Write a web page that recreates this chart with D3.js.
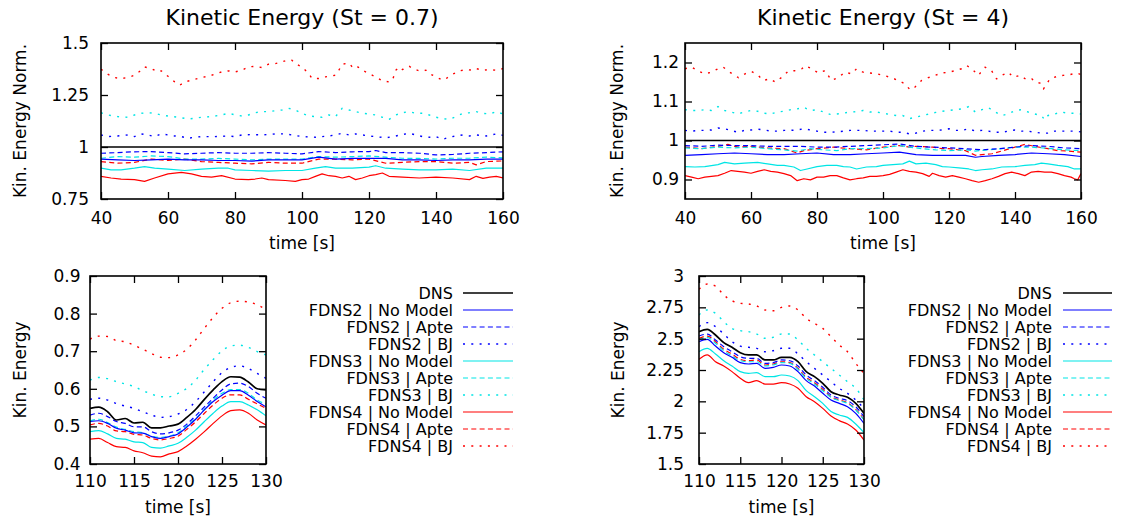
<!DOCTYPE html>
<html>
<head>
<meta charset="utf-8">
<script src="https://cdn.jsdelivr.net/npm/d3@7"></script>
<style>
  body { margin: 0; background: #fff; }
  svg { display: block; }
  text { font-family: "DejaVu Sans", Verdana, sans-serif; fill: #000; }
</style>
</head>
<body>
<svg id="chart" width="1125" height="523"></svg>
<script>
// ---------- series labels and styles ----------
const seriesNames = [
  "DNS",
  "FDNS2 | No Model", "FDNS2 | Apte", "FDNS2 | BJ",
  "FDNS3 | No Model", "FDNS3 | Apte", "FDNS3 | BJ",
  "FDNS4 | No Model", "FDNS4 | Apte", "FDNS4 | BJ"
];

// ---------- normalised kinetic energy, St = 0.7 ([time, value]) ----------
const n07_dns = [[40, 1], [160, 1]];
const n07_f2None = [[40,0.942],[45,0.938],[50,0.935],[55,0.938],[60,0.942],[65,0.938],[70,0.938],[75,0.935],[80,0.935],[85,0.932],[90,0.938],[95,0.938],[100,0.938],[105,0.951],[110,0.942],[115,0.945],[120,0.946],[125,0.945],[130,0.938],[135,0.938],[140,0.935],[145,0.938],[150,0.938],[155,0.942],[160,0.942]];
const n07_f2Apte = [[40,0.970],[45,0.973],[50,0.977],[55,0.978],[60,0.973],[65,0.967],[70,0.970],[75,0.973],[80,0.970],[85,0.970],[90,0.973],[95,0.970],[100,0.967],[105,0.978],[110,0.973],[115,0.977],[120,0.978],[122,0.983],[125,0.973],[130,0.973],[135,0.970],[140,0.962],[145,0.964],[150,0.970],[155,0.973],[160,0.977]];
const n07_f2BJ = [[40,1.058],[42,1.050],[45,1.053],[48,1.058],[50,1.050],[52,1.063],[54,1.058],[56,1.050],[58,1.063],[60,1.058],[62,1.053],[64,1.050],[66,1.042],[68,1.047],[70,1.050],[74,1.050],[78,1.053],[80,1.050],[82,1.058],[85,1.060],[88,1.058],[92,1.063],[95,1.063],[97,1.058],[100,1.050],[104,1.047],[106,1.050],[108,1.053],[110,1.058],[112,1.066],[114,1.058],[116,1.063],[118,1.058],[120,1.053],[122,1.050],[125,1.044],[128,1.053],[130,1.060],[132,1.066],[134,1.058],[136,1.050],[138,1.047],[140,1.050],[142,1.037],[144,1.047],[146,1.053],[148,1.058],[150,1.053],[152,1.058],[155,1.053],[158,1.063],[160,1.056]];
const n07_f3None = [[40,0.898],[43,0.890],[46,0.890],[50,0.898],[53,0.906],[56,0.898],[60,0.894],[65,0.887],[70,0.894],[75,0.898],[78,0.898],[80,0.890],[85,0.887],[90,0.884],[95,0.887],[100,0.887],[104,0.898],[107,0.906],[110,0.898],[115,0.898],[120,0.903],[122,0.910],[125,0.898],[130,0.894],[135,0.890],[140,0.890],[145,0.894],[150,0.887],[155,0.898],[160,0.898]];
const n07_f3Apte = [[40,0.946],[45,0.954],[50,0.951],[55,0.957],[60,0.954],[65,0.942],[70,0.942],[75,0.945],[80,0.942],[85,0.938],[90,0.942],[95,0.942],[100,0.942],[105,0.954],[110,0.951],[115,0.954],[120,0.957],[125,0.951],[130,0.946],[135,0.945],[140,0.942],[145,0.946],[150,0.946],[155,0.951],[160,0.948]];
const n07_f3BJ = [[40,1.165],[42,1.154],[45,1.146],[48,1.143],[50,1.154],[52,1.162],[54,1.165],[56,1.162],[58,1.154],[60,1.149],[63,1.143],[66,1.135],[68,1.138],[70,1.143],[73,1.146],[76,1.154],[78,1.162],[80,1.155],[82,1.149],[84,1.154],[86,1.165],[88,1.170],[90,1.170],[92,1.174],[94,1.178],[96,1.186],[98,1.178],[100,1.162],[102,1.149],[104,1.146],[106,1.143],[108,1.154],[110,1.146],[112,1.186],[114,1.178],[116,1.170],[118,1.162],[120,1.159],[122,1.154],[124,1.143],[126,1.133],[128,1.154],[130,1.165],[132,1.170],[134,1.162],[136,1.162],[138,1.154],[140,1.143],[142,1.136],[144,1.133],[146,1.146],[148,1.162],[150,1.165],[152,1.170],[154,1.162],[156,1.159],[158,1.170],[160,1.159]];
const n07_f4None = [[40,0.859],[43,0.851],[46,0.846],[50,0.843],[53,0.835],[56,0.851],[60,0.871],[64,0.878],[67,0.871],[70,0.859],[73,0.855],[76,0.862],[80,0.846],[84,0.843],[86,0.846],[88,0.851],[90,0.843],[95,0.839],[98,0.835],[100,0.843],[102,0.846],[104,0.859],[106,0.871],[108,0.862],[110,0.859],[112,0.851],[114,0.859],[116,0.843],[118,0.851],[120,0.862],[122,0.867],[124,0.875],[126,0.859],[130,0.855],[135,0.851],[140,0.855],[145,0.851],[150,0.843],[152,0.859],[154,0.849],[156,0.855],[158,0.859],[160,0.851]];
const n07_f4Apte = [[40,0.930],[45,0.922],[50,0.926],[55,0.942],[60,0.935],[65,0.942],[70,0.930],[75,0.926],[80,0.922],[85,0.919],[90,0.926],[95,0.922],[100,0.922],[105,0.942],[110,0.942],[115,0.938],[120,0.942],[125,0.922],[130,0.926],[135,0.930],[140,0.930],[145,0.922],[150,0.926],[152,0.914],[155,0.930],[160,0.933]];
const n07_f4BJ = [[40,1.374],[42,1.350],[44,1.334],[46,1.329],[48,1.334],[50,1.345],[52,1.369],[53,1.385],[55,1.377],[57,1.361],[58,1.366],[60,1.340],[62,1.313],[63.5,1.297],[65,1.313],[67,1.321],[70,1.334],[72,1.340],[74,1.350],[76,1.361],[78,1.366],[80,1.361],[82,1.369],[84,1.385],[86,1.388],[88,1.382],[90,1.398],[92,1.401],[94,1.409],[96,1.420],[97,1.417],[98,1.401],[100,1.385],[102,1.353],[103,1.329],[105,1.329],[107,1.337],[110,1.345],[111,1.369],[112,1.398],[114,1.404],[115,1.385],[116,1.393],[118,1.369],[120,1.353],[122,1.337],[124,1.318],[126,1.313],[127,1.321],[128,1.369],[129,1.385],[130,1.372],[132,1.388],[133,1.377],[135,1.366],[137,1.369],[138,1.353],[140,1.337],[142,1.321],[143,1.329],[145,1.350],[147,1.366],[149,1.372],[151,1.369],[152,1.377],[154,1.369],[156,1.372],[158,1.369],[160,1.377]];

// ---------- normalised kinetic energy, St = 4 ([time, value]) ----------
const n4_dns = [[40, 1], [160, 1]];
const n4_f2None = [[40,0.962],[45,0.964],[50,0.966],[55,0.968],[60,0.966],[65,0.964],[70,0.964],[75,0.966],[80,0.968],[85,0.964],[90,0.964],[95,0.966],[100,0.968],[105,0.970],[110,0.964],[115,0.962],[120,0.962],[125,0.962],[128,0.957],[130,0.959],[135,0.962],[140,0.964],[145,0.968],[150,0.966],[155,0.964],[160,0.959]];
const n4_f2Apte = [[40,0.987],[45,0.985],[50,0.988],[55,0.987],[60,0.987],[65,0.985],[70,0.985],[75,0.985],[80,0.983],[85,0.983],[90,0.985],[95,0.987],[100,0.989],[105,0.991],[110,0.985],[115,0.983],[120,0.981],[125,0.979],[130,0.976],[135,0.979],[140,0.983],[145,0.987],[150,0.985],[155,0.981],[160,0.979]];
const n4_f2BJ = [[40,1.026],[42,1.024],[44,1.026],[46,1.026],[48,1.027],[50,1.032],[52,1.030],[54,1.026],[56,1.021],[58,1.026],[60,1.027],[62,1.029],[64,1.027],[66,1.024],[68,1.024],[70,1.026],[72,1.026],[74,1.027],[76,1.030],[78,1.027],[80,1.024],[82,1.021],[84,1.021],[86,1.022],[88,1.024],[90,1.026],[92,1.026],[94,1.026],[96,1.024],[98,1.024],[100,1.024],[102,1.024],[104,1.021],[106,1.021],[108,1.017],[110,1.019],[112,1.024],[114,1.026],[116,1.026],[118,1.027],[120,1.030],[122,1.026],[124,1.026],[126,1.030],[128,1.024],[130,1.026],[132,1.024],[134,1.021],[136,1.021],[138,1.024],[140,1.027],[142,1.024],[144,1.024],[146,1.021],[148,1.019],[150,1.019],[152,1.024],[154,1.024],[156,1.024],[158,1.024],[160,1.022]];
const n4_f3None = [[40,0.933],[43,0.932],[46,0.933],[50,0.938],[52,0.944],[55,0.940],[58,0.942],[62,0.944],[65,0.940],[68,0.936],[70,0.936],[73,0.932],[75,0.923],[77,0.927],[80,0.933],[83,0.936],[86,0.936],[88,0.933],[90,0.932],[92,0.927],[95,0.932],[98,0.933],[100,0.936],[103,0.938],[106,0.940],[108,0.947],[110,0.940],[113,0.942],[116,0.938],[118,0.933],[120,0.932],[123,0.930],[126,0.927],[128,0.923],[130,0.925],[133,0.927],[136,0.932],[140,0.933],[143,0.936],[146,0.938],[148,0.942],[150,0.940],[153,0.936],[156,0.933],[158,0.927],[160,0.927]];
const n4_f3Apte = [[40,0.981],[45,0.979],[50,0.983],[55,0.981],[60,0.983],[65,0.979],[70,0.976],[74,0.973],[78,0.979],[82,0.976],[86,0.974],[90,0.979],[95,0.979],[100,0.981],[105,0.987],[108,0.983],[112,0.979],[116,0.976],[120,0.974],[125,0.976],[128,0.973],[132,0.976],[136,0.979],[140,0.983],[145,0.983],[150,0.980],[155,0.976],[160,0.974]];
const n4_f3BJ = [[40,1.079],[42,1.077],[44,1.077],[46,1.079],[48,1.077],[50,1.087],[52,1.077],[54,1.073],[56,1.068],[58,1.073],[60,1.077],[62,1.075],[64,1.070],[66,1.068],[68,1.073],[70,1.075],[72,1.079],[74,1.081],[76,1.085],[78,1.077],[80,1.079],[82,1.073],[84,1.067],[86,1.068],[88,1.070],[90,1.073],[92,1.074],[94,1.077],[96,1.073],[98,1.073],[100,1.070],[102,1.067],[104,1.064],[106,1.064],[108,1.056],[110,1.060],[112,1.064],[114,1.068],[116,1.072],[118,1.075],[120,1.077],[122,1.079],[124,1.081],[126,1.087],[128,1.073],[130,1.079],[132,1.084],[134,1.073],[136,1.064],[138,1.068],[140,1.077],[142,1.079],[144,1.073],[146,1.068],[148,1.064],[149,1.053],[150,1.064],[152,1.068],[154,1.073],[156,1.070],[158,1.070],[160,1.068]];
const n4_f4None = [[40,0.910],[42,0.906],[44,0.902],[46,0.906],[48,0.908],[50,0.910],[52,0.916],[54,0.923],[56,0.921],[58,0.919],[60,0.916],[62,0.921],[64,0.925],[66,0.921],[68,0.919],[70,0.915],[72,0.910],[74,0.897],[76,0.902],[78,0.899],[80,0.906],[82,0.906],[84,0.910],[86,0.910],[88,0.904],[90,0.899],[92,0.902],[94,0.904],[96,0.908],[98,0.908],[100,0.910],[102,0.913],[104,0.919],[106,0.925],[108,0.921],[110,0.919],[112,0.915],[114,0.908],[115,0.916],[117,0.910],[119,0.906],[121,0.910],[123,0.906],[125,0.902],[127,0.897],[129,0.893],[131,0.897],[133,0.902],[135,0.908],[137,0.915],[139,0.919],[141,0.915],[143,0.910],[145,0.919],[147,0.921],[149,0.919],[151,0.919],[153,0.915],[155,0.910],[157,0.906],[158,0.902],[159,0.899],[160,0.915]];
const n4_f4Apte = [[40,0.983],[45,0.979],[50,0.985],[53,0.990],[56,0.983],[60,0.985],[65,0.981],[70,0.979],[74,0.968],[76,0.974],[80,0.979],[85,0.983],[90,0.979],[95,0.976],[100,0.983],[105,0.987],[108,0.983],[110,0.985],[115,0.983],[118,0.979],[120,0.979],[125,0.974],[128,0.962],[130,0.964],[133,0.966],[136,0.973],[140,0.983],[143,0.990],[146,0.985],[150,0.979],[153,0.974],[156,0.973],[160,0.970]];
const n4_f4BJ = [[40,1.184],[42,1.188],[44,1.178],[46,1.171],[48,1.175],[50,1.184],[51.6,1.188],[53.6,1.175],[56.2,1.161],[58.2,1.171],[60.2,1.177],[62.2,1.167],[63.7,1.154],[65.8,1.158],[67.3,1.150],[69.3,1.162],[71.3,1.178],[73.3,1.179],[75.4,1.184],[76.4,1.192],[78.4,1.184],[80.4,1.173],[82.4,1.179],[84.4,1.154],[86.5,1.162],[88.5,1.175],[90.5,1.171],[92,1.184],[94,1.175],[96,1.173],[98.1,1.171],[100.1,1.167],[102.6,1.161],[104.6,1.154],[106.7,1.145],[108.2,1.130],[109.7,1.137],[111.7,1.154],[113.7,1.161],[115.8,1.167],[117.8,1.173],[119.8,1.175],[121.8,1.179],[123.8,1.184],[125.4,1.192],[126.9,1.184],[128.9,1.167],[130.9,1.188],[132.9,1.179],[134.4,1.158],[136,1.167],[138,1.175],[139.5,1.162],[141.5,1.167],[143.5,1.156],[145.1,1.158],[146.1,1.150],[147.6,1.147],[148.6,1.132],[150.6,1.158],[152.6,1.164],[154.6,1.167],[156.7,1.169],[158.7,1.173],[160,1.169]];

// ---------- kinetic energy, 110 s to 130 s ----------
const zoomTime = [110,111,112,113,114,115,116,117,118,119,120,121,122,123,124,125,126,127,128,129,130];

const ke07_dns    = [0.548,0.551,0.539,0.517,0.521,0.509,0.511,0.496,0.496,0.501,0.506,0.524,0.545,0.572,0.597,0.619,0.632,0.631,0.618,0.600,0.597];
const ke07_f2None = [0.513,0.515,0.508,0.495,0.490,0.483,0.482,0.473,0.468,0.473,0.480,0.498,0.519,0.544,0.566,0.583,0.595,0.595,0.583,0.566,0.552];
const ke07_f2Apte = [0.530,0.535,0.526,0.513,0.508,0.499,0.499,0.486,0.480,0.483,0.490,0.506,0.528,0.552,0.575,0.597,0.613,0.615,0.606,0.588,0.575];
const ke07_f2BJ   = [0.572,0.575,0.570,0.561,0.554,0.548,0.539,0.530,0.524,0.526,0.533,0.545,0.566,0.592,0.619,0.643,0.657,0.661,0.654,0.641,0.628];
const ke07_f3None = [0.486,0.489,0.480,0.468,0.466,0.459,0.457,0.444,0.442,0.448,0.455,0.471,0.490,0.513,0.535,0.554,0.566,0.566,0.557,0.544,0.528];
const ke07_f3Apte = [0.515,0.519,0.510,0.498,0.492,0.486,0.483,0.474,0.471,0.474,0.483,0.501,0.521,0.545,0.570,0.588,0.598,0.598,0.588,0.570,0.559];
const ke07_f3BJ   = [0.623,0.630,0.627,0.619,0.613,0.606,0.595,0.586,0.579,0.579,0.588,0.601,0.623,0.652,0.678,0.701,0.714,0.716,0.710,0.699,0.690];
const ke07_f4None = [0.466,0.468,0.457,0.446,0.444,0.435,0.430,0.421,0.419,0.427,0.433,0.448,0.466,0.486,0.508,0.528,0.542,0.544,0.535,0.517,0.504];
const ke07_f4Apte = [0.504,0.508,0.501,0.488,0.486,0.479,0.477,0.468,0.464,0.468,0.474,0.492,0.512,0.535,0.557,0.575,0.584,0.584,0.572,0.560,0.548];
const ke07_f4BJ   = [0.732,0.740,0.739,0.728,0.725,0.716,0.705,0.694,0.684,0.683,0.690,0.705,0.730,0.761,0.790,0.814,0.829,0.833,0.831,0.823,0.811];

const ke4_dns    = [2.556,2.574,2.529,2.468,2.431,2.388,2.370,2.370,2.330,2.330,2.351,2.351,2.316,2.237,2.197,2.144,2.077,2.051,2.032,1.984,1.904];
const ke4_f2None = [2.476,2.495,2.441,2.388,2.351,2.309,2.298,2.303,2.263,2.271,2.290,2.282,2.237,2.165,2.122,2.064,2.011,1.984,1.957,1.904,1.824];
const ke4_f2Apte = [2.521,2.537,2.489,2.436,2.396,2.356,2.343,2.343,2.303,2.309,2.330,2.324,2.282,2.210,2.165,2.112,2.051,2.024,2.005,1.957,1.878];
const ke4_f2BJ   = [2.596,2.628,2.596,2.537,2.476,2.441,2.431,2.423,2.396,2.404,2.423,2.423,2.378,2.316,2.263,2.210,2.157,2.104,2.064,2.011,1.944];
const ke4_f3None = [2.396,2.423,2.378,2.324,2.282,2.237,2.223,2.229,2.197,2.197,2.210,2.202,2.165,2.085,2.037,1.984,1.918,1.891,1.872,1.819,1.750];
const ke4_f3Apte = [2.489,2.511,2.463,2.404,2.362,2.324,2.316,2.316,2.282,2.290,2.309,2.303,2.255,2.184,2.138,2.085,2.032,2.005,1.984,1.931,1.851];
const ke4_f3BJ   = [2.689,2.729,2.702,2.636,2.582,2.564,2.556,2.537,2.503,2.511,2.537,2.537,2.489,2.423,2.370,2.316,2.263,2.210,2.157,2.104,2.011];
const ke4_f4None = [2.335,2.370,2.316,2.282,2.237,2.184,2.149,2.165,2.138,2.138,2.149,2.138,2.104,2.037,1.997,1.944,1.883,1.846,1.819,1.771,1.691];
const ke4_f4Apte = [2.503,2.521,2.476,2.415,2.378,2.335,2.324,2.330,2.290,2.298,2.316,2.309,2.263,2.191,2.149,2.096,2.037,2.011,1.989,1.936,1.856];
const ke4_f4BJ   = [2.894,2.936,2.920,2.848,2.803,2.782,2.777,2.761,2.729,2.723,2.750,2.761,2.729,2.662,2.622,2.582,2.516,2.449,2.396,2.303,2.223];

// ---------- axis tick values ----------
const longTimeTicks = [40, 60, 80, 100, 120, 140, 160];
const shortTimeTicks = [110, 115, 120, 125, 130];
const n07Ticks = [0.75, 1, 1.25, 1.5];
const n4Ticks = [0.9, 1, 1.1, 1.2];
const ke07Ticks = [0.4, 0.5, 0.6, 0.7, 0.8, 0.9];
const ke4Ticks = [1.5, 1.75, 2, 2.25, 2.5, 2.75, 3];

// ---------- drawing ----------
const FONT = 17;
const BLUE = "#0000ff", CYAN = "#00e5e5", RED = "#ff0000";
const styles = [
  { color: "#000", dash: null, width: 1.7 },
  { color: BLUE, dash: null, width: 1.2 },
  { color: BLUE, dash: "5,3.3", width: 1.2 },
  { color: BLUE, dash: "2,6.3", width: 1.4 },
  { color: CYAN, dash: null, width: 1.2 },
  { color: CYAN, dash: "5,3.3", width: 1.2 },
  { color: CYAN, dash: "2,6.3", width: 1.4 },
  { color: RED, dash: null, width: 1.2 },
  { color: RED, dash: "5,3.3", width: 1.2 },
  { color: RED, dash: "2,6.3", width: 1.4 }
];

const pairs = ys => ys.map((v, i) => [zoomTime[i], v]);

const panels = [
  { id: "n07", left: 101, right: 503, top: 43, bottom: 199, xd: [40, 160], yd: [0.75, 1.5],
    xt: longTimeTicks, yt: n07Ticks, ypad: 12, xpad: 13, yLabelX: 20,
    title: "Kinetic Energy (St = 0.7)", ylabel: "Kin. Energy Norm.", smooth: false,
    data: [n07_dns, n07_f2None, n07_f2Apte, n07_f2BJ, n07_f3None, n07_f3Apte, n07_f3BJ, n07_f4None, n07_f4Apte, n07_f4BJ] },
  { id: "n4", left: 685, right: 1081, top: 43, bottom: 199, xd: [40, 160], yd: [0.85, 1.25],
    xt: longTimeTicks, yt: n4Ticks, ypad: 6, xpad: 13, yLabelX: 617,
    title: "Kinetic Energy (St = 4)", ylabel: "Kin. Energy Norm.", smooth: false,
    data: [n4_dns, n4_f2None, n4_f2Apte, n4_f2BJ, n4_f3None, n4_f3Apte, n4_f3BJ, n4_f4None, n4_f4Apte, n4_f4BJ] },
  { id: "ke07", left: 90, right: 266, top: 276, bottom: 464, xd: [110, 130], yd: [0.4, 0.9],
    xt: shortTimeTicks, yt: ke07Ticks, ypad: 9.5, xpad: 10.5, yLabelX: 20,
    title: null, ylabel: "Kin. Energy", smooth: true,
    data: [ke07_dns, ke07_f2None, ke07_f2Apte, ke07_f2BJ, ke07_f3None, ke07_f3Apte, ke07_f3BJ, ke07_f4None, ke07_f4Apte, ke07_f4BJ].map(pairs),
    legend: { textRight: 453, lineX0: 463, lineX1: 513, y0: 293, step: 17 } },
  { id: "ke4", left: 699, right: 864, top: 276, bottom: 464, xd: [110, 130], yd: [1.5, 3],
    xt: shortTimeTicks, yt: ke4Ticks, ypad: 15, xpad: 10.5, yLabelX: 618,
    title: null, ylabel: "Kin. Energy", smooth: true,
    data: [ke4_dns, ke4_f2None, ke4_f2Apte, ke4_f2BJ, ke4_f3None, ke4_f3Apte, ke4_f3BJ, ke4_f4None, ke4_f4Apte, ke4_f4BJ].map(pairs),
    legend: { textRight: 1052, lineX0: 1063, lineX1: 1112, y0: 293, step: 17 } }
];

const svg = d3.select("#chart");
svg.append("rect").attr("width", 1125).attr("height", 523).attr("fill", "#fff");

panels.forEach(p => {
  const x = d3.scaleLinear().domain(p.xd).range([p.left, p.right]);
  const y = d3.scaleLinear().domain(p.yd).range([p.bottom, p.top]);
  const g = svg.append("g").attr("class", "panel-" + p.id);

  g.append("clipPath").attr("id", "clip-" + p.id)
    .append("rect").attr("x", p.left).attr("y", p.top)
    .attr("width", p.right - p.left).attr("height", p.bottom - p.top);

  // curves
  const line = d3.line().x(d => x(d[0])).y(d => y(d[1]))
    .curve(p.smooth ? d3.curveMonotoneX : d3.curveLinear);
  const curves = g.append("g").attr("clip-path", `url(#clip-${p.id})`);
  // draw in reverse so DNS ends up on top
  p.data.map((d, i) => ({ d, i })).reverse().forEach(({ d, i }) => {
    const s = styles[i];
    curves.append("path").datum(d)
      .attr("d", line)
      .attr("fill", "none")
      .attr("stroke", s.color)
      .attr("stroke-width", s.width)
      .attr("stroke-dasharray", s.dash)
      .attr("stroke-linejoin", "round");
  });

  const fmt = v => String(v);
  const tick = 7;
  // left axis with labels, mirrored ticks on the right
  const ax = g.append("g").attr("transform", `translate(${p.left},0)`)
    .call(d3.axisLeft(y).tickValues(p.yt).tickFormat(fmt).tickSizeInner(-tick).tickSizeOuter(0).tickPadding(p.ypad));
  g.append("g").attr("transform", `translate(${p.right},0)`)
    .call(d3.axisRight(y).tickValues(p.yt).tickFormat("").tickSizeInner(-tick).tickSizeOuter(0));
  // bottom axis with labels, mirrored ticks on top
  g.append("g").attr("transform", `translate(0,${p.bottom})`)
    .call(d3.axisBottom(x).tickValues(p.xt).tickFormat(fmt).tickSizeInner(-tick).tickSizeOuter(0).tickPadding(p.xpad));
  g.append("g").attr("transform", `translate(0,${p.top})`)
    .call(d3.axisTop(x).tickValues(p.xt).tickFormat("").tickSizeInner(-tick).tickSizeOuter(0));

  g.selectAll(".domain").remove();
  g.selectAll(".tick line").attr("stroke", "#000").attr("stroke-width", 1.3);
  g.selectAll(".tick text").attr("font-size", FONT).attr("font-family", "DejaVu Sans").attr("fill", "#000");

  // frame
  g.append("rect").attr("x", p.left).attr("y", p.top)
    .attr("width", p.right - p.left).attr("height", p.bottom - p.top)
    .attr("fill", "none").attr("stroke", "#000").attr("stroke-width", 1.6);

  // axis titles
  g.append("text")
    .attr("x", (p.left + p.right) / 2).attr("y", p.bottom + (p.smooth ? 43 : 44))
    .attr("text-anchor", "middle").attr("dy", "0.35em").attr("font-size", FONT)
    .text("time [s]");
  g.append("text")
    .attr("transform", `translate(${p.yLabelX},${(p.top + p.bottom) / 2}) rotate(-90)`)
    .attr("text-anchor", "middle").attr("dy", "0.35em").attr("font-size", FONT)
    .text(p.ylabel);
  if (p.title) {
    g.append("text")
      .attr("x", (p.left + p.right) / 2).attr("y", 25)
      .attr("text-anchor", "middle").attr("font-size", 22)
      .text(p.title);
  }

  // key
  if (p.legend) {
    const L = p.legend;
    seriesNames.forEach((name, i) => {
      const yy = L.y0 + i * L.step;
      const s = styles[i];
      g.append("text").attr("x", L.textRight).attr("y", yy)
        .attr("text-anchor", "end").attr("dy", "0.35em").attr("font-size", 16)
        .text(name);
      g.append("line").attr("x1", L.lineX0).attr("x2", L.lineX1)
        .attr("y1", yy).attr("y2", yy)
        .attr("stroke", s.color).attr("stroke-width", s.width)
        .attr("stroke-dasharray", s.dash);
    });
  }
});
</script>
</body>
</html>
